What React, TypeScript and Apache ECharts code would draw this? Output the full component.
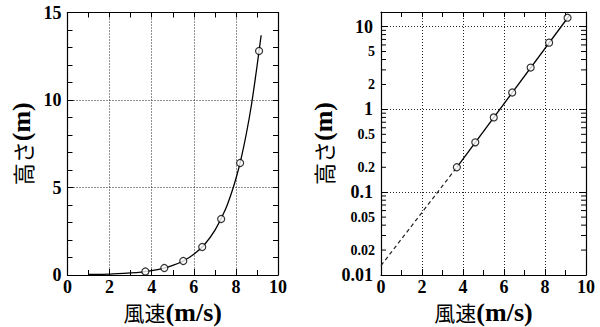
import React, { useEffect, useRef } from "react";
import * as echarts from "echarts";

// Observed points (wind speed m/s, height m)
const speeds = [3.7, 4.6, 5.5, 6.4, 7.3, 8.2, 9.1];
const heights = [0.2, 0.4, 0.8, 1.6, 3.2, 6.4, 12.8];

// Fitted curve
const curveSpeeds = [1, 2, 3, 3.5, 4, 4.5, 5, 5.5, 6, 6.5, 7, 7.5, 7.75, 8, 8.25, 8.5, 8.75, 9, 9.2];
const curveHeights = [0.03, 0.05, 0.12, 0.17, 0.25, 0.37, 0.55, 0.8, 1.18, 1.73, 2.55, 3.74, 4.54, 5.5, 6.67, 8.1, 9.8, 11.9, 13.7];

// Fitted line on the log panel: solid part and dashed extrapolation
const fitSolidX = [3.7, 9.2];
const fitSolidY = [0.2, 13.7];
const fitDashX = [0, 3.7];
const fitDashY = [0.013, 0.2];

// Log-axis minor ticks and the ones that carry a small label
const logMinorTicks = [
  0.02, 0.03, 0.04, 0.05, 0.06, 0.07, 0.08, 0.09,
  0.2, 0.3, 0.4, 0.5, 0.6, 0.7, 0.8, 0.9,
  2, 3, 4, 5, 6, 7, 8, 9,
];
const logMinorLabels = ["0.02", "0.05", "0.2", "0.5", "2", "5"];

const xName = "風速";
const xUnit = "(m/s)";
const yName = "高さ";
const yUnit = "(m)";

const SERIF = '"Liberation Serif", "DejaVu Serif", serif';
const CJK = '"Noto Sans CJK JP", sans-serif';

const zip = (a: number[], b: number[]) => a.map((v, i) => [v, b[i]]);

export default function App() {
  const ref = useRef<HTMLDivElement>(null);

  useEffect(() => {
    if (!ref.current) return;
    const chart = echarts.init(ref.current, null, { renderer: "svg" });

    const black = "#000";
    const gridDot = { show: true, lineStyle: { color: "#222", type: [1, 2] as any, width: 1 } };
    const axisLine = { show: true, onZero: false, lineStyle: { color: black, width: 1.2 } };
    const tickIn = (len: number) => ({ show: true, inside: true, length: len, lineStyle: { color: black, width: 1 } });
    const labelStyle = { color: black, fontFamily: SERIF, fontWeight: "bold" as const, fontSize: 18 };

    const nameXStyle = {
      lineHeight: 22,
      rich: {
        j: { fontFamily: CJK, fontSize: 21, color: black, lineHeight: 22 },
        u: { fontFamily: SERIF, fontSize: 26, fontWeight: "bold" as const, color: black, lineHeight: 22 },
      },
    };
    const nameYStyle = {
      lineHeight: 28,
      rich: {
        j: { fontFamily: CJK, fontSize: 22, color: black, lineHeight: 28 },
        u: { fontFamily: SERIF, fontSize: 26, fontWeight: "bold" as const, color: black, lineHeight: 28 },
      },
    };

    const bottomX = (gridIndex: number) => ({
      gridIndex,
      type: "value" as const,
      min: 0,
      max: 10,
      interval: 2,
      position: "bottom" as const,
      axisLine,
      axisTick: tickIn(6),
      minorTick: { show: true, splitNumber: 2, length: 5, lineStyle: { color: black, width: 1 } },
      splitLine: gridDot,
      axisLabel: { ...labelStyle, margin: 4, lineHeight: 16 },
      name: `{j|${xName}}{u|${xUnit}}`,
      nameLocation: "middle" as const,
      nameGap: 26,
      nameMoveOverlap: false,
      nameTextStyle: nameXStyle,
    });
    const topX = (gridIndex: number) => ({
      gridIndex,
      type: "value" as const,
      min: 0,
      max: 10,
      interval: 1,
      position: "top" as const,
      axisLine,
      axisTick: tickIn(5),
      axisLabel: { show: false },
      splitLine: { show: false },
    });

    const option: any = {
      animation: false,
      backgroundColor: "#fff",
      grid: [
        { left: 67.5, right: 322, top: 12.5, bottom: 52, outerBoundsMode: "none", containLabel: false },
        { left: 381, right: 14, top: 12, bottom: 52, outerBoundsMode: "none", containLabel: false },
      ],
      xAxis: [bottomX(0), topX(0), bottomX(1), topX(1)],
      yAxis: [
        {
          gridIndex: 0,
          type: "value",
          min: 0,
          max: 15,
          interval: 5,
          position: "left",
          axisLine,
          axisTick: tickIn(6),
          minorTick: { show: true, splitNumber: 5, length: 5, lineStyle: { color: black, width: 1 } },
          splitLine: gridDot,
          axisLabel: { ...labelStyle, margin: 6 },
          name: `{j|${yName}}{u|${yUnit}}`,
          nameLocation: "middle",
          nameRotate: 90,
          nameGap: 32,
          nameMoveOverlap: false,
          nameTextStyle: nameYStyle,
        },
        {
          gridIndex: 0,
          type: "value",
          min: 0,
          max: 15,
          interval: 1,
          position: "right",
          axisLine,
          axisTick: tickIn(5),
          axisLabel: { show: false },
          splitLine: { show: false },
        },
        {
          gridIndex: 1,
          type: "log",
          logBase: 10,
          min: 0.01,
          max: 15,
          position: "left",
          axisLine,
          axisTick: tickIn(7),
          splitLine: gridDot,
          axisLabel: {
            ...labelStyle,
            margin: 8,
            formatter: (v: number) => {
              const e = Math.log10(v);
              if (Math.abs(e - Math.round(e)) > 1e-6) return "";
              return String(Number(v.toPrecision(2)));
            },
          },
          name: `{j|${yName}}{u|${yUnit}}`,
          nameLocation: "middle",
          nameRotate: 90,
          nameGap: 44,
          nameMoveOverlap: false,
          nameTextStyle: nameYStyle,
        },
        {
          gridIndex: 1,
          type: "log",
          logBase: 10,
          min: 0.01,
          max: 15,
          position: "right",
          axisLine,
          axisTick: tickIn(7),
          axisLabel: { show: false },
          splitLine: { show: false },
        },
      ],
      series: [
        {
          type: "line",
          xAxisIndex: 0,
          yAxisIndex: 0,
          data: zip(curveSpeeds, curveHeights),
          smooth: 0.2,
          showSymbol: false,
          symbol: "none",
          lineStyle: { color: black, width: 1.3 },
          silent: true,
          z: 3,
        },
        {
          type: "scatter",
          xAxisIndex: 0,
          yAxisIndex: 0,
          data: zip(speeds, heights),
          symbol: "circle",
          symbolSize: 7,
          itemStyle: { color: "#fff", borderColor: black, borderWidth: 1.2 },
          z: 4,
        },
        {
          type: "line",
          xAxisIndex: 2,
          yAxisIndex: 2,
          data: zip(fitDashX, fitDashY),
          showSymbol: false,
          symbol: "none",
          lineStyle: { color: "#222", width: 1.2, type: [4, 3] },
          silent: true,
          z: 3,
        },
        {
          type: "line",
          xAxisIndex: 2,
          yAxisIndex: 2,
          data: zip(fitSolidX, fitSolidY),
          showSymbol: false,
          symbol: "none",
          lineStyle: { color: black, width: 1.3 },
          silent: true,
          z: 3,
        },
        {
          type: "scatter",
          xAxisIndex: 2,
          yAxisIndex: 2,
          data: zip(speeds, heights),
          symbol: "circle",
          symbolSize: 7,
          itemStyle: { color: "#fff", borderColor: black, borderWidth: 1.2 },
          z: 4,
        },
        {
          type: "custom",
          xAxisIndex: 2,
          yAxisIndex: 2,
          silent: true,
          clip: false,
          data: logMinorTicks.map((v) => [0, v]),
          renderItem: (_params: any, api: any) => {
            const v = api.value(1);
            const a = api.coord([0, v]);
            const b = api.coord([10, v]);
            const children: any[] = [
              { type: "line", shape: { x1: a[0], y1: a[1], x2: a[0] + 5, y2: a[1] }, style: { stroke: black, lineWidth: 1 } },
              { type: "line", shape: { x1: b[0] - 5, y1: b[1], x2: b[0], y2: b[1] }, style: { stroke: black, lineWidth: 1 } },
            ];
            const lbl = String(v);
            if (logMinorLabels.includes(lbl)) {
              children.push({
                type: "text",
                style: {
                  text: lbl,
                  x: a[0] - 6,
                  y: a[1],
                  align: "right",
                  verticalAlign: "middle",
                  fontFamily: SERIF,
                  fontWeight: "bold",
                  fontSize: 14,
                  fill: black,
                },
              });
            }
            return { type: "group", children };
          },
          z: 2,
        },
      ],
    };

    chart.setOption(option);
    return () => chart.dispose();
  }, []);

  return (
    <div
      ref={ref}
      style={{ position: "fixed", left: 0, top: 0, width: 600, height: 327, background: "#fff" }}
    />
  );
}
